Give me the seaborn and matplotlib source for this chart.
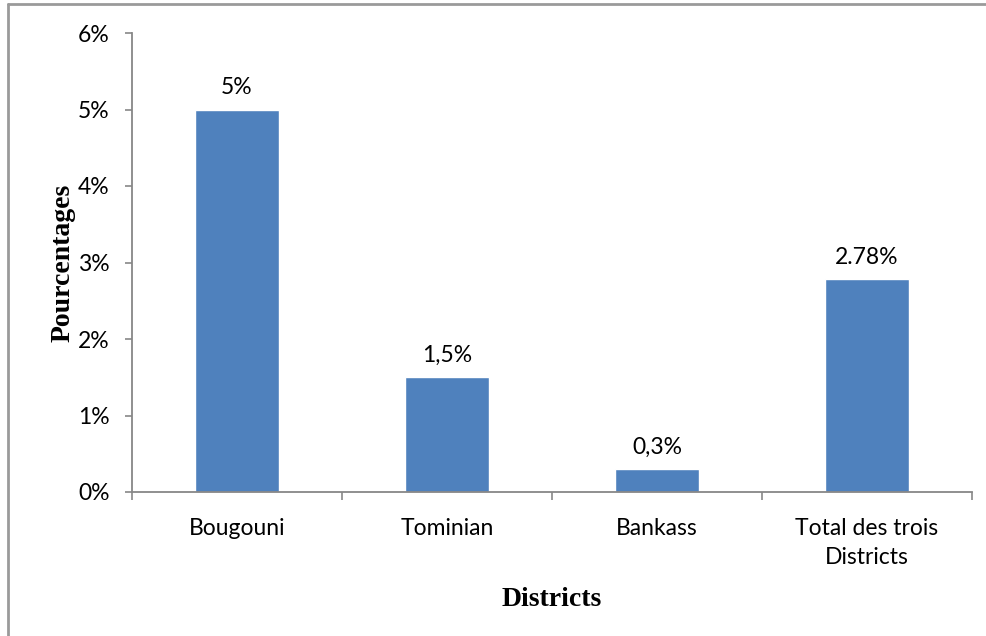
import matplotlib
matplotlib.use("Agg")
import matplotlib.pyplot as plt
from matplotlib.lines import Line2D
import seaborn as sns
import pandas as pd

districts = ["Bougouni", "Tominian", "Bankass", "Total des trois\nDistricts"]
pourcentages = [5.0, 1.5, 0.3, 2.78]
labels = ["5%", "1,5%", "0,3%", "2.78%"]
yticks = [0, 1, 2, 3, 4, 5, 6]
ytick_labels = ["0%", "1%", "2%", "3%", "4%", "5%", "6%"]

sns.set_theme(style="white")
plt.rcParams["font.family"] = ["Lato", "DejaVu Sans"]

df = pd.DataFrame({"district": districts, "pct": pourcentages})

fig = plt.figure(figsize=(9.87, 6.36), dpi=100)
ax = fig.add_axes([132 / 987, 1 - 492 / 636, (972 - 132) / 987, (492 - 33) / 636])

sns.barplot(data=df, x="district", y="pct", color="#4F81BD", width=0.4,
            saturation=1, ax=ax)

axis_grey = "#878787"
ax.set_xlim(-0.5, len(districts) - 0.5)
ax.set_ylim(0, 6)
ax.set_yticks(yticks)
ax.set_yticklabels(ytick_labels)
ax.tick_params(axis="y", length=5, width=1.2, color=axis_grey, direction="out",
               left=True, labelsize=16.5, labelcolor="black", pad=11)
ax.tick_params(axis="x", length=0, labelsize=16.5, labelcolor="black", pad=19)
for lbl in ax.get_xticklabels():
    lbl.set_linespacing(1.45)

# category boundary ticks under the baseline
ax.set_xticks([i - 0.5 for i in range(len(districts) + 1)], minor=True)
ax.tick_params(axis="x", which="minor", length=6, width=1.2, color=axis_grey,
               direction="out", bottom=True)

for side in ["top", "right"]:
    ax.spines[side].set_visible(False)
for side in ["left", "bottom"]:
    ax.spines[side].set_color(axis_grey)
    ax.spines[side].set_linewidth(1.3)

for i, (v, t) in enumerate(zip(pourcentages, labels)):
    ax.annotate(t, (i, v), xytext=(0, 8), textcoords="offset points",
                ha="center", va="bottom", fontsize=16.5, color="black")

ax.set_xlabel("Districts", family="Liberation Serif", fontweight="bold",
              fontsize=20, labelpad=14, color="black")
ax.set_ylabel("Pourcentages", family="Liberation Serif", fontweight="bold",
              fontsize=20, labelpad=2, color="black")

# outer frame (left and top edges)
frame_grey = "#9a9a9a"
fig.add_artist(Line2D([8 / 987, 8 / 987], [0, 1 - 4 / 636], color=frame_grey,
                      lw=2, transform=fig.transFigure))
fig.add_artist(Line2D([8 / 987, 1], [1 - 4 / 636, 1 - 4 / 636], color=frame_grey,
                      lw=2, transform=fig.transFigure))

fig.savefig("out.png", dpi=100)
